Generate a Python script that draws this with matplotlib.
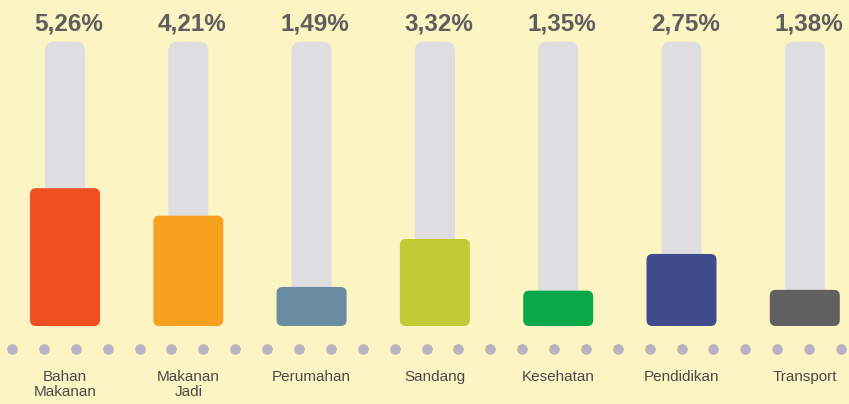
import numpy as np
import matplotlib
matplotlib.use('Agg')
import matplotlib.pyplot as plt
from matplotlib.patches import FancyBboxPatch

# data
categories = ['Bahan\nMakanan', 'Makanan\nJadi', 'Perumahan', 'Sandang',
              'Kesehatan', 'Pendidikan', 'Transport']
values = [5.26, 4.21, 1.49, 3.32, 1.35, 2.75, 1.38]
labels = ['5,26%', '4,21%', '1,49%', '3,32%', '1,35%', '2,75%', '1,38%']
colors = ['#F04E23', '#F7A01D', '#6A8CA3', '#C2CB35', '#0BA84A', '#3F4B8C', '#606060']

track_max = 10.85
bg = '#FDF4C3'
track_col = '#DEDDE0'
dot_col = '#B6B4C0'
fonts = ['Liberation Sans Narrow', 'Liberation Sans', 'DejaVu Sans']

W, H = 849, 404
px_x = 123.3   # pixels per category step
px_y = 26.2    # pixels per percent
x0_px, y0_px = 65, 326

fig = plt.figure(figsize=(W / 100, H / 100), dpi=100, facecolor=bg)
ax = fig.add_axes([0, 0, 1, 1])
ax.set_facecolor(bg)
ax.set_xlim(-x0_px / px_x, (W - x0_px) / px_x)
ax.set_ylim(-(H - y0_px) / px_y, y0_px / px_y)
ax.axis('off')

aspect = px_x / px_y
bar_w = 70 / px_x
track_w = 40 / px_x

for i, v in enumerate(values):
    # grey track
    ax.add_patch(FancyBboxPatch((i - track_w / 2, 0), track_w, track_max,
                                boxstyle='round,pad=0,rounding_size=%f' % (9 / px_x),
                                mutation_aspect=aspect, fc=track_col, ec='none', zorder=1))
    # coloured bar
    ax.add_patch(FancyBboxPatch((i - bar_w / 2, 0), bar_w, v,
                                boxstyle='round,pad=0,rounding_size=%f' % (6 / px_x),
                                mutation_aspect=aspect, fc=colors[i], ec='none', zorder=2))
    ax.text(i + 0.03, track_max + 0.68, labels[i], ha='center', va='center',
            fontsize=17.5, fontweight='bold', color='#5E5E5E', family=fonts)
    ax.text(i, -1.68, categories[i], ha='center', va='top', fontsize=11,
            color='#4A4A4A', family=fonts, linespacing=1.05)

# row of dots
dx = np.linspace(12 / W, 841 / W, 27)
ax.plot(dx, np.full(len(dx), 1 - 349 / H), 'o', ms=7.6, color=dot_col,
        mec='none', transform=ax.transAxes, zorder=1)

fig.savefig('out.png', dpi=100, facecolor=bg)
